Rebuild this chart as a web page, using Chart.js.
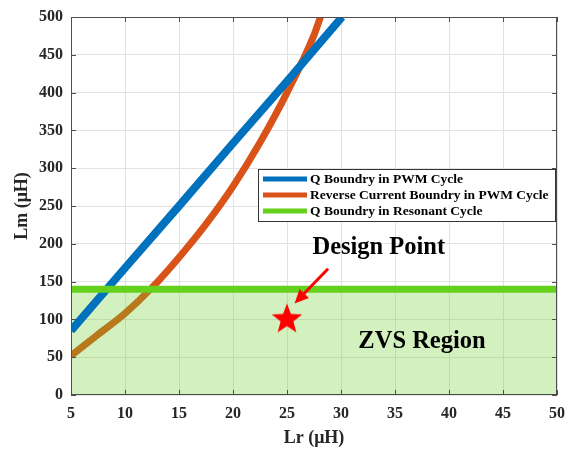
<!DOCTYPE html>
<html>
<head>
<meta charset="utf-8">
<script src="https://cdn.jsdelivr.net/npm/chart.js@4/dist/chart.umd.min.js"></script>
<style>
html,body{margin:0;padding:0;background:#fff;}
#wrap{width:581px;height:450px;}
</style>
</head>
<body>
<div id="wrap"><canvas id="myChart"></canvas></div>
<script>
// values
const seriesNames = ['Q Boundry in PWM Cycle', 'Reverse Current Boundry in PWM Cycle', 'Q Boundry in Resonant Cycle'];
const lrBlue = [5, 10, 15, 20, 25, 30.1];
const lmBlue = [85, 168, 250, 333, 415, 500];
const lrOrange = [5, 7.5, 10, 12.5, 15, 17.5, 20, 22.5, 25, 27.5, 28.1];
const lmOrange = [52, 80, 108, 142, 182, 226, 276, 334, 400, 476, 500];
const lrGreen = [5, 50];
const lmGreen = [140, 140];
const designPoint = [25, 100];
const arrowFrom = [28.8, 167];
const arrowTo = [25.7, 121];
const designLabel = ['Design Point', 33.5, 186];
const regionLabel = ['ZVS Region', 37.5, 70];

const serif = '"Liberation Serif", "Times New Roman", serif';
const colors = ['#0072BD', '#D95319', '#66D11C'];

function pts(xs, ys) {
	return xs.map(function(x, i) { return {x: x, y: ys[i]}; });
}

// filled red star used as the point style
function makeStar(r) {
	let c = document.createElement('canvas');
	c.width = c.height = r * 2 + 2;
	let g = c.getContext('2d');
	g.beginPath();
	for (let i = 0; i < 10; i++) {
		let rad = i % 2 == 0 ? r : r * 0.42;
		let a = -Math.PI / 2 + i * Math.PI / 5;
		g.lineTo(r + 1 + rad * Math.cos(a), r + 1 + rad * Math.sin(a));
	}
	g.closePath();
	g.fillStyle = '#FF0000';
	g.fill();
	return c;
}

const boxPlugin = {
	id: 'box',
	afterDatasetsDraw(chart) {
		let ctx = chart.ctx, a = chart.chartArea;
		let xs = chart.scales.x, ys = chart.scales.y;
		ctx.save();
		// arrow
		let x1 = xs.getPixelForValue(arrowFrom[0]), y1 = ys.getPixelForValue(arrowFrom[1]);
		let x2 = xs.getPixelForValue(arrowTo[0]), y2 = ys.getPixelForValue(arrowTo[1]);
		let ang = Math.atan2(y2 - y1, x2 - x1);
		ctx.strokeStyle = '#FF0000';
		ctx.fillStyle = '#FF0000';
		ctx.lineWidth = 3;
		ctx.beginPath();
		ctx.moveTo(x1, y1);
		ctx.lineTo(x2 - 10 * Math.cos(ang), y2 - 10 * Math.sin(ang));
		ctx.stroke();
		ctx.beginPath();
		ctx.moveTo(x2, y2);
		ctx.lineTo(x2 - 14 * Math.cos(ang) + 6.5 * Math.sin(ang), y2 - 14 * Math.sin(ang) - 6.5 * Math.cos(ang));
		ctx.lineTo(x2 - 14 * Math.cos(ang) - 6.5 * Math.sin(ang), y2 - 14 * Math.sin(ang) + 6.5 * Math.cos(ang));
		ctx.closePath();
		ctx.fill();

		// texts
		ctx.fillStyle = '#000';
		ctx.textAlign = 'center';
		ctx.textBaseline = 'alphabetic';
		ctx.font = 'bold 24.5px ' + serif;
		ctx.fillText(designLabel[0], xs.getPixelForValue(designLabel[1]), ys.getPixelForValue(designLabel[2]));
		ctx.textBaseline = 'middle';
		ctx.fillText(regionLabel[0], xs.getPixelForValue(regionLabel[1]), ys.getPixelForValue(regionLabel[2]));

		// axes box with inward ticks
		ctx.strokeStyle = '#4d4d4d';
		ctx.lineWidth = 1;
		ctx.strokeRect(a.left + 0.5, a.top + 0.5, a.right - a.left - 1, a.bottom - a.top - 1);
		ctx.beginPath();
		xs.ticks.forEach(function(t) {
			let p = Math.round(xs.getPixelForValue(t.value)) + 0.5;
			ctx.moveTo(p, a.bottom); ctx.lineTo(p, a.bottom - 5);
			ctx.moveTo(p, a.top); ctx.lineTo(p, a.top + 5);
		});
		ys.ticks.forEach(function(t) {
			let p = Math.round(ys.getPixelForValue(t.value)) + 0.5;
			ctx.moveTo(a.left, p); ctx.lineTo(a.left + 5, p);
			ctx.moveTo(a.right, p); ctx.lineTo(a.right - 5, p);
		});
		ctx.stroke();

		// y tick labels, taken from the scale's own ticks
		// (drawn here so their overhang does not push the plot area down)
		ctx.fillStyle = '#262626';
		ctx.font = 'bold 16px ' + serif;
		ctx.textAlign = 'right';
		ctx.textBaseline = 'middle';
		ys.ticks.forEach(function(t) {
			ctx.fillText(String(t.value), a.left - 8, ys.getPixelForValue(t.value));
		});

		// legend
		let lx = a.left + 187, ly = a.top + 152, lw = 297, lh = 52;
		ctx.fillStyle = '#fff';
		ctx.fillRect(lx, ly, lw, lh);
		ctx.strokeStyle = '#333';
		ctx.strokeRect(lx + 0.5, ly + 0.5, lw, lh);
		ctx.font = 'bold 13.5px ' + serif;
		ctx.textAlign = 'left';
		ctx.textBaseline = 'middle';
		for (let i = 0; i < 3; i++) {
			let cy = ly + 10 + i * 16;
			ctx.fillStyle = colors[i];
			ctx.fillRect(lx + 5, cy - 2.5, 44, 5);
			ctx.fillStyle = '#000';
			ctx.fillText(seriesNames[i], lx + 52, cy + 1);
		}
		ctx.restore();
	}
};

let myChart = document.getElementById('myChart').getContext('2d');
let chart = new Chart(myChart, {
	type: 'scatter',
	data: {
		datasets: [{
			label: seriesNames[1],
			data: pts(lrOrange, lmOrange),
			showLine: true,
			borderColor: colors[1],
			borderWidth: 7,
			pointRadius: 0,
			cubicInterpolationMode: 'monotone',
			order: 4
		}, {
			// shaded ZVS region under the green boundary
			label: 'ZVS',
			data: pts(lrGreen, lmGreen),
			showLine: true,
			borderWidth: 0,
			borderColor: 'rgba(0,0,0,0)',
			pointRadius: 0,
			fill: 'origin',
			backgroundColor: 'rgba(110,210,40,0.3)',
			order: 3
		}, {
			label: seriesNames[0],
			data: pts(lrBlue, lmBlue),
			showLine: true,
			borderColor: colors[0],
			borderWidth: 8,
			pointRadius: 0,
			order: 2
		}, {
			label: seriesNames[2],
			data: pts(lrGreen, lmGreen),
			showLine: true,
			borderColor: colors[2],
			borderWidth: 7,
			pointRadius: 0,
			order: 1
		}, {
			label: 'Design Point',
			data: pts([designPoint[0]], [designPoint[1]]),
			pointStyle: makeStar(16),
			pointRadius: 16,
			order: 0
		}]
	},
	options: {
		responsive: true,
		maintainAspectRatio: false,
		animation: false,
		layout: {
			padding: {left: 0, right: 24, top: 11, bottom: 0}
		},
		plugins: {
			legend: {display: false},
			tooltip: {enabled: false}
		},
		scales: {
			x: {
				type: 'linear',
				min: 5,
				max: 50,
				ticks: {stepSize: 5, padding: 9, color: '#262626', font: {family: serif, size: 16, weight: 'bold'}},
				grid: {color: '#e2e2e2', drawTicks: false},
				border: {display: false},
				title: {display: true, text: 'Lr (μH)', color: '#262626', padding: {top: 0, bottom: 1}, font: {family: serif, size: 18, weight: 'bold'}},
				afterFit: function(s) { s.height = 55; }
			},
			y: {
				min: 0,
				max: 500,
				ticks: {stepSize: 50, display: false},
				grid: {color: '#e2e2e2', drawTicks: false},
				border: {display: false},
				title: {display: true, text: 'Lm (μH)', color: '#262626', padding: {top: 12, bottom: 0}, font: {family: serif, size: 18, weight: 'bold'}},
				afterFit: function(s) { s.width = 71; }
			}
		}
	},
	plugins: [boxPlugin]
});
</script>
</body>
</html>
